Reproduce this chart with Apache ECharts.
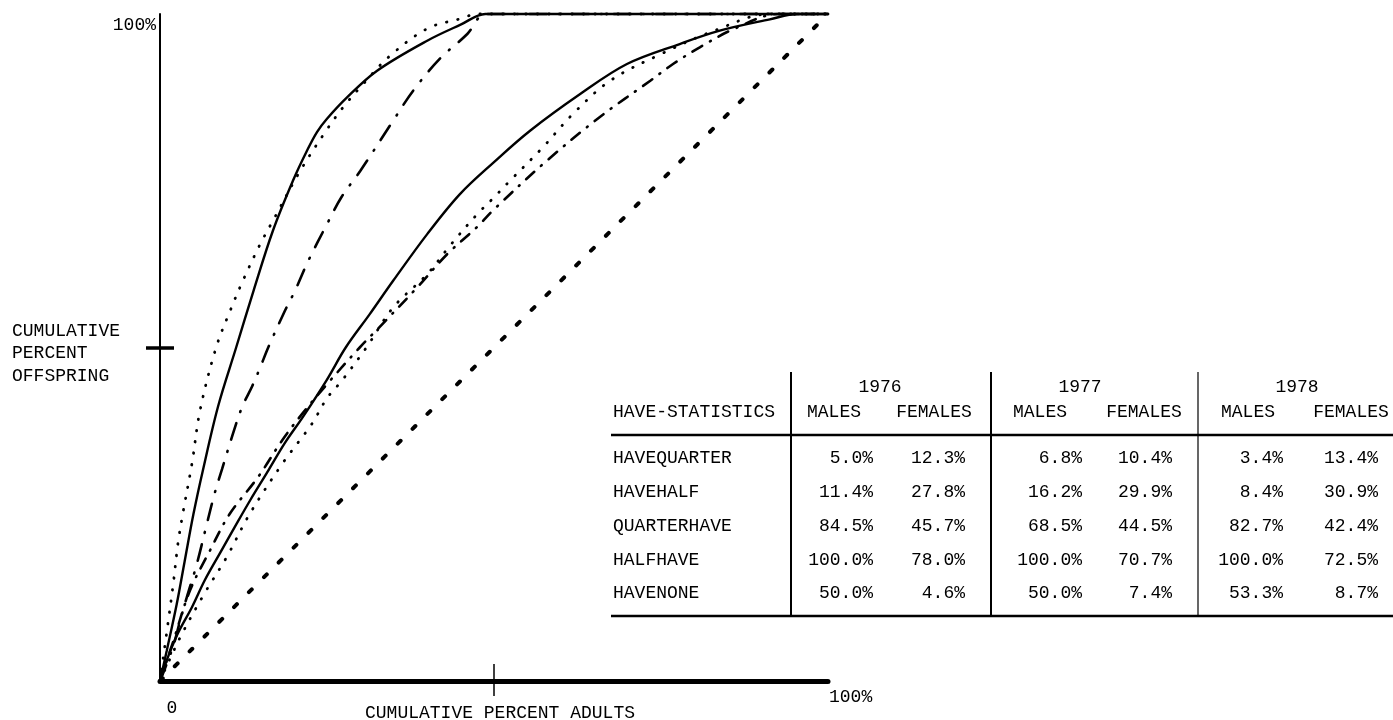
<!DOCTYPE html>
<html>
<head>
<meta charset="utf-8">
<title>Cumulative percent offspring vs. cumulative percent adults</title>
<script src="https://cdn.jsdelivr.net/npm/echarts@6/dist/echarts.min.js"></script>
<style>
  html, body { margin: 0; padding: 0; background: #fff; }
  #chart { width: 1393px; height: 720px; }
</style>
</head>
<body>
<div id="chart"></div>
<script>
// Cumulative distributions: [cumulative % adults, cumulative % offspring]
const males1976 = [[0,0],[1,4.5],[2.5,11.5],[3.7,18],[5,25],[6.4,31.5],[8.7,41.2],[11.4,50],[14,58.5],[16.9,67.5],[19.9,75],[22,79.5],[23.5,82.3],[25,84.3],[28,87.5],[32.5,91.5],[40,96],[45,98.4],[48.7,100],[50,100],[100,100]];
const males1977 = [[0,0],[1.9,5],[3,9],[4,12.5],[5.5,17.5],[7,23.5],[8.2,28.2],[9.3,31.8],[10.9,37],[12.3,41.1],[13.8,44.2],[15,47],[16.2,50],[18.7,55.5],[20.2,58.5],[22.2,63],[25,68.5],[27.2,72.6],[30,76.5],[34.9,84],[37.9,88.5],[41.9,93.3],[46,97],[48.6,100],[50,100],[100,100]];
const males1978 = [[0,0],[1.2,8.7],[2,14.7],[2.7,20.7],[3.4,25],[4.8,32.7],[6,40.6],[8.4,50],[10.5,55.5],[12.4,60],[15,65.5],[16.9,69],[21,76.5],[25,82.7],[27.4,86],[30.5,89.6],[34.4,93.7],[40,97.8],[45,99.3],[47.5,100],[50,100],[100,100]];
const females1976 = [[0,0],[1,3.1],[2.7,7.2],[4.8,11.1],[6.7,15.1],[9,19.2],[11.2,23.1],[13.5,27.1],[16,31.2],[18.7,35.7],[21.4,39.6],[25,45.2],[27.8,50],[31.4,55],[34.9,60],[40,67],[44.9,73],[50,77.8],[55.4,82.5],[62.9,88],[69.9,92.5],[77.8,95.5],[83.8,97.5],[91.3,99.2],[95.4,100],[97,100],[100,100]];
const females1977 = [[0,0],[2,6],[4.5,13.6],[7.5,19.6],[10.4,25],[14.7,30.6],[18.3,36.1],[21.4,40.2],[25,44.5],[29.9,50],[32.9,53.1],[38.5,59],[43,64],[47.5,68.1],[50,70.7],[57.9,78],[65.9,84.6],[73.4,90],[76.8,92.5],[80.8,95],[86,97.8],[92.6,100],[95,100],[100,100]];
const females1978 = [[0,0],[3,6.5],[6.7,13.2],[10,18.6],[13.4,25],[18.4,32.7],[22.7,38.5],[25,42.4],[27.2,45],[30.9,50],[34.9,56],[40,61],[43.6,65.5],[47.5,70],[50,72.5],[51.9,74.5],[57.3,80],[61.8,85],[67.4,90],[75,94],[83,97.5],[91.3,100],[94,100],[100,100]];
const equality = [[0,0],[100,100]];

// Summary table
const years = ['1976', '1977', '1978'];
const sexes = ['MALES', 'FEMALES'];
const statNames = ['HAVEQUARTER', 'HAVEHALF', 'QUARTERHAVE', 'HALFHAVE', 'HAVENONE'];
const males1976Stats   = [5.0, 11.4, 84.5, 100.0, 50.0];
const females1976Stats = [12.3, 27.8, 45.7, 78.0, 4.6];
const males1977Stats   = [6.8, 16.2, 68.5, 100.0, 50.0];
const females1977Stats = [10.4, 29.9, 44.5, 70.7, 7.4];
const males1978Stats   = [3.4, 8.4, 82.7, 100.0, 53.3];
const females1978Stats = [13.4, 30.9, 42.4, 72.5, 8.7];

// Axis annotation text
const yAxisTitle = ['CUMULATIVE', 'PERCENT', 'OFFSPRING'];
const xAxisTitle = 'CUMULATIVE PERCENT ADULTS';
const yTopLabel = '100%';
const xStartLabel = '0';
const xEndLabel = '100%';
const tableHeader = 'HAVE-STATISTICS';

const FONT = '"Liberation Mono", "DejaVu Sans Mono", monospace';
const INK = '#000';

function txt(text, x, y, align) {
  return {
    type: 'text',
    silent: true,
    style: {
      text: text, x: x, y: y,
      font: '18px ' + FONT,
      fill: INK,
      align: align, textAlign: align,
      verticalAlign: 'middle', textVerticalAlign: 'middle'
    }
  };
}
function rule(x1, y1, x2, y2, w) {
  return {
    type: 'line',
    silent: true,
    shape: { x1: x1, y1: y1, x2: x2, y2: y2 },
    style: { stroke: INK, lineWidth: w }
  };
}

// ---- table layout ----
const statsByYear = [
  [males1976Stats, females1976Stats],
  [males1977Stats, females1977Stats],
  [males1978Stats, females1978Stats]
];
const yearCenters = [880, 1080, 1297];
const sexCenters = [[834, 934], [1040, 1144], [1248, 1351]];
const valueRight = [[873, 965], [1082, 1172], [1283, 1378]];
const rowY = [458, 492, 526, 560, 593];

const graphics = [];
// axis captions
yAxisTitle.forEach((line, i) => graphics.push(txt(line, 12, 331 + i * 22.7, 'left')));
graphics.push(txt(xAxisTitle, 500, 713, 'center'));
graphics.push(txt(yTopLabel, 156, 25, 'right'));
graphics.push(txt(xStartLabel, 172, 708, 'center'));
graphics.push(txt(xEndLabel, 829, 697, 'left'));

// table rules
graphics.push(rule(791, 372, 791, 616, 2));
graphics.push(rule(991, 372, 991, 616, 2));
graphics.push(rule(1198, 372, 1198, 616, 1.2));
graphics.push(rule(611, 435, 1393, 435, 2.5));
graphics.push(rule(611, 616, 1393, 616, 2.5));

// table text
graphics.push(txt(tableHeader, 613, 412, 'left'));
years.forEach((yr, yi) => {
  graphics.push(txt(yr, yearCenters[yi], 387, 'center'));
  sexes.forEach((s, si) => {
    graphics.push(txt(s, sexCenters[yi][si], 412, 'center'));
    statsByYear[yi][si].forEach((v, ri) => {
      graphics.push(txt(v.toFixed(1) + '%', valueRight[yi][si], rowY[ri], 'right'));
    });
  });
});
statNames.forEach((n, ri) => graphics.push(txt(n, 613, rowY[ri], 'left')));

// ---- chart ----
function curve(name, data, lineStyle) {
  return {
    name: name,
    type: 'line',
    data: data,
    showSymbol: false,
    symbol: 'none',
    smooth: 0.35,
    clip: false,
    silent: true,
    z: 3,
    lineStyle: Object.assign({ color: INK, width: 2.2, cap: 'round' }, lineStyle)
  };
}

const chart = echarts.init(document.getElementById('chart'), null, { renderer: 'canvas' });
const baseX = {
  type: 'value', min: 0, max: 100, interval: 50,
  position: 'bottom',
  splitLine: { show: false },
  axisLabel: { show: false }
};
const baseY = {
  type: 'value', min: 0, max: 100, interval: 50,
  position: 'left',
  splitLine: { show: false },
  axisLabel: { show: false }
};
chart.setOption({
  animation: false,
  backgroundColor: '#fff',
  grid: { left: 160, right: 565, top: 14, bottom: 39, containLabel: false },
  xAxis: [
    Object.assign({}, baseX, {
      axisLine: { show: true, lineStyle: { color: INK, width: 5 } },
      axisTick: { show: true, customValues: [50], inside: false, length: 15, lineStyle: { color: INK, width: 1.5 } }
    }),
    Object.assign({}, baseX, {
      axisLine: { show: false },
      axisTick: { show: true, customValues: [50], inside: true, length: 17, lineStyle: { color: INK, width: 1.5 } }
    })
  ],
  yAxis: [
    Object.assign({}, baseY, {
      axisLine: { show: true, lineStyle: { color: INK, width: 2 } },
      axisTick: { show: true, customValues: [50], inside: false, length: 14, lineStyle: { color: INK, width: 3.5 } }
    }),
    Object.assign({}, baseY, {
      axisLine: { show: false },
      axisTick: { show: true, customValues: [50], inside: true, length: 14, lineStyle: { color: INK, width: 3.5 } }
    })
  ],
  graphic: graphics,
  series: [
    curve('Equality', equality, { type: [4, 17], width: 4 }),
    curve('Females 1976', females1976, { type: 'solid', width: 2.4 }),
    curve('Females 1977', females1977, { type: [11, 9, 1, 9], width: 2.6 }),
    curve('Females 1978', females1978, { type: [0.5, 11], width: 2.8 }),
    curve('Males 1976', males1976, { type: 'solid', width: 2.4 }),
    curve('Males 1977', males1977, { type: [17, 12, 1, 12], width: 2.6 }),
    curve('Males 1978', males1978, { type: [0.5, 11], width: 2.8 })
  ]
});
</script>
</body>
</html>
